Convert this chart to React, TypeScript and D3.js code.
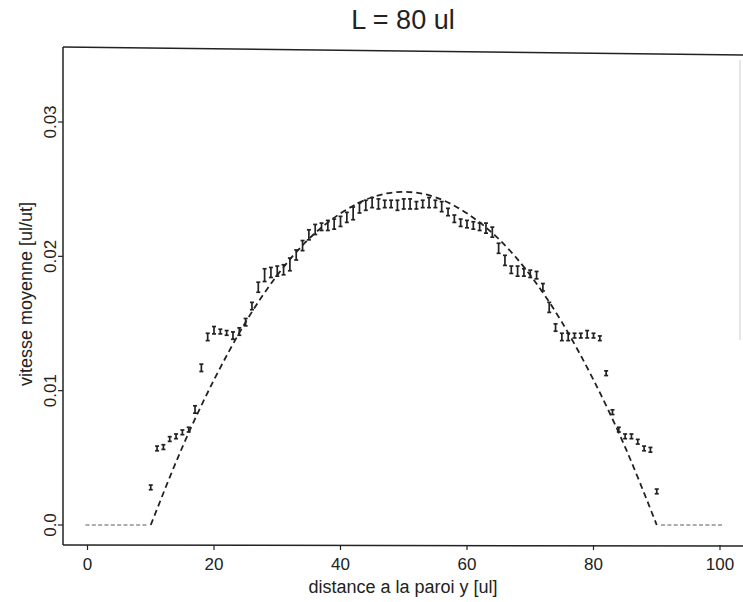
import React from 'react';
import * as d3 from 'd3';

// measured mean velocity, one point per lattice row y = 10 .. 90
const yPos = d3.range(10, 91);
const vitesse = [
  0.0028, 0.0057, 0.0058, 0.0064, 0.0066, 0.0069, 0.0071, 0.0086, 0.0117, 0.0140,
  0.0145, 0.0144, 0.0143, 0.0141, 0.0144, 0.0151, 0.0163, 0.0177, 0.0186, 0.0188,
  0.0189, 0.0190, 0.0194, 0.0201, 0.0208, 0.0216, 0.0220, 0.0222, 0.0223, 0.0224,
  0.0226, 0.0229, 0.0232, 0.0236, 0.0238, 0.0240, 0.0239, 0.0239, 0.0239, 0.0238,
  0.0239, 0.0239, 0.0238, 0.0239, 0.0240, 0.0239, 0.0237, 0.0233, 0.0228, 0.0225,
  0.0224, 0.0223, 0.0222, 0.0221, 0.0218, 0.0206, 0.0197, 0.0190, 0.0189, 0.0188,
  0.0187, 0.0186, 0.0177, 0.0162, 0.0147, 0.0140, 0.0140, 0.0141, 0.0141, 0.0142,
  0.0141, 0.0139, 0.0113, 0.0084, 0.0071, 0.0066, 0.0066, 0.0062, 0.0057, 0.0056,
  0.0025
];
// half length of the error bars
const erreur = [
  0.0001, 0.0001, 0.0001, 0.0001, 0.0001, 0.0001, 0.0001, 0.0002, 0.0002, 0.0002,
  0.0002, 0.0001, 0.0001, 0.0002, 0.0002, 0.0002, 0.0002, 0.0003, 0.0004, 0.0003,
  0.0003, 0.0003, 0.0004, 0.0003, 0.0003, 0.0003, 0.0003, 0.0002, 0.0003, 0.0003,
  0.0003, 0.0003, 0.0004, 0.0003, 0.0003, 0.0003, 0.0003, 0.0002, 0.0002, 0.0003,
  0.0003, 0.0003, 0.0002, 0.0002, 0.0003, 0.0002, 0.0003, 0.0002, 0.0002, 0.0002,
  0.0002, 0.0002, 0.0002, 0.0003, 0.0003, 0.0003, 0.0003, 0.0002, 0.0003, 0.0002,
  0.0002, 0.0002, 0.0002, 0.0003, 0.0002, 0.0002, 0.0002, 0.0001, 0.0001, 0.0002,
  0.0001, 0.0001, 0.0001, 0.0001, 0.0001, 0.0001, 0.0001, 0.0001, 0.0001, 0.0001,
  0.0001
];
// rows inside the walls, velocity zero
const yParoi = [0, 1, 2, 3, 4, 5, 6, 7, 8, 9, 91, 92, 93, 94, 95, 96, 97, 98, 99, 100];

// theoretical profile (dashed)
const yTheo = [10, 15, 20, 25, 30, 35, 40, 45, 50, 55, 60, 65, 70, 75, 80, 85, 90];
const vTheo = [0, 0.0058, 0.0108, 0.0151, 0.0186, 0.0213, 0.0232, 0.0244, 0.0248,
  0.0244, 0.0232, 0.0213, 0.0186, 0.0151, 0.0108, 0.0058, 0];

const xTicks = [0, 20, 40, 60, 80, 100];
const yTicks = [0, 0.01, 0.02, 0.03];
const yTickLabels = ['0.0', '0.01', '0.02', '0.03'];

const W = 743;
const H = 602;
const box = { left: 63, top: 48, right: 743, bottom: 545 };
const font = '"Liberation Sans", Arial, Helvetica, sans-serif';
const ink = '#222';

export default function App() {
  const x = d3.scaleLinear().domain([0, 100]).range([87.5, 720]);
  const y = d3.scaleLinear().domain([0, 0.03]).range([525, 122]);

  const theo = d3.line<number>()
    .x((d, i) => x(yTheo[i]))
    .y(d => y(d))
    .curve(d3.curveNatural)(vTheo);

  return (
    <svg width={W} height={H} style={{ position: 'absolute', left: 0, top: 0, background: '#fff' }}>
      <text x={403} y={29} textAnchor="middle" fontFamily={font} fontSize={27} fill={ink}>L = 80 ul</text>

      {/* frame */}
      <line x1={box.left} y1={box.top - 1} x2={box.right} y2={box.top + 7} stroke={ink} strokeWidth={1.5} />
      <line x1={box.left} y1={box.top - 1} x2={box.left} y2={box.bottom} stroke={ink} strokeWidth={1.5} />
      <line x1={box.left} y1={box.bottom} x2={box.right} y2={box.bottom + 1} stroke={ink} strokeWidth={1.5} />
      <line x1={740} y1={60} x2={740} y2={340} stroke="#ccc" strokeWidth={1} />

      {/* x axis */}
      {xTicks.map(t => (
        <g key={'x' + t}>
          <line x1={x(t)} x2={x(t)} y1={box.bottom} y2={box.bottom + 5} stroke={ink} strokeWidth={1.2} />
          <text x={x(t)} y={570} textAnchor="middle" fontFamily={font} fontSize={17} fill={ink}>{t}</text>
        </g>
      ))}
      <text x={403} y={593} textAnchor="middle" fontFamily={font} fontSize={18} fill={ink}>distance a la paroi y [ul]</text>

      {/* y axis */}
      {yTicks.map((t, i) => (
        <g key={'y' + t}>
          <line x1={box.left - 5} x2={box.left} y1={y(t)} y2={y(t)} stroke={ink} strokeWidth={1.2} />
          <text transform={`translate(56,${y(t)}) rotate(-90)`} textAnchor="middle" fontFamily={font} fontSize={17} fill={ink}>{yTickLabels[i]}</text>
        </g>
      ))}
      <text transform="translate(32,294) rotate(-90)" textAnchor="middle" fontFamily={font} fontSize={18} fill={ink}>vitesse moyenne [ul/ut]</text>

      {/* theoretical profile */}
      <path d={theo || ''} fill="none" stroke={ink} strokeWidth={1.8} strokeDasharray="6,4" />

      {/* zero rows */}
      {yParoi.map(p => (
        <line key={'p' + p} x1={x(p) - 2} x2={x(p) + 2} y1={y(0)} y2={y(0)} stroke="#888" strokeWidth={1.4} />
      ))}

      {/* measured points with error bars */}
      {yPos.map((p, i) => {
        const v = vitesse[i];
        const e = erreur[i];
        const cx = x(p);
        const y1 = y(v + e);
        const y2 = y(v - e);
        return (
          <g key={'m' + p} stroke={ink} strokeWidth={1.7}>
            <line x1={cx} x2={cx} y1={y1 - 1} y2={y2 + 1} />
            <line x1={cx - 2} x2={cx + 2} y1={y1 - 1} y2={y1 - 1} />
            <line x1={cx - 2} x2={cx + 2} y1={y2 + 1} y2={y2 + 1} />
          </g>
        );
      })}
    </svg>
  );
}
